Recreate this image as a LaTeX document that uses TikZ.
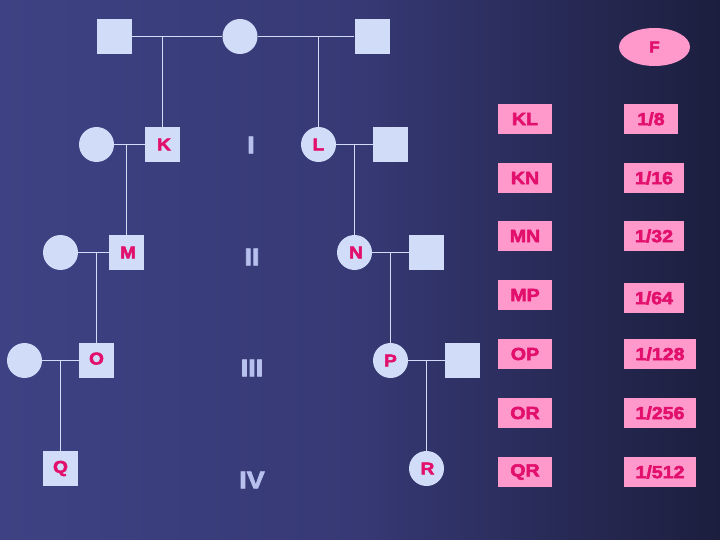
\documentclass[tikz,border=0pt]{standalone}
\usepackage{fontspec}
\setmainfont[BoldFeatures={FakeBold=3,FakeStretch=1.12}]{Liberation Sans}
\usetikzlibrary{shapes.geometric}
\definecolor{bgL}{RGB}{62,66,132}
\definecolor{bgM}{RGB}{54,57,116}
\definecolor{bgR}{RGB}{28,30,62}
\definecolor{shapefill}{RGB}{208,220,248}
\definecolor{pinkbox}{RGB}{255,153,204}
\definecolor{magtext}{RGB}{226,16,108}
\definecolor{romancol}{RGB}{184,192,238}
\tikzset{
  male/.style={rectangle, fill=shapefill, minimum size=35pt, inner sep=0pt,
    text=magtext, font=\fontsize{17}{17}\selectfont\bfseries},
  female/.style={circle, fill=shapefill, minimum size=35pt, inner sep=0pt,
    text=magtext, font=\fontsize{17}{17}\selectfont\bfseries},
  pedline/.style={draw=shapefill, line width=1pt},
  roman/.style={text=romancol, font=\fontsize{24}{24}\selectfont\bfseries},
  pairbox/.style={rectangle, fill=pinkbox, minimum width=54pt, minimum height=30pt,
    inner sep=0pt, text=magtext, font=\fontsize{17.5}{17.5}\selectfont\bfseries},
  fracbox/.style={rectangle, fill=pinkbox, minimum height=30pt, inner sep=0pt,
    text=magtext, font=\fontsize{17.5}{17.5}\selectfont\bfseries}
}
\newcommand{\lowered}[1]{\raisebox{-2.5pt}{#1}}
\begin{document}
\begin{tikzpicture}[x=1pt,y=-1pt]
\shade[left color=bgL, right color=bgR, middle color=bgM] (0,0) rectangle (720,540);
\useasboundingbox (0,0) rectangle (720,540);
% generation I parents
\node[male] (g1) at (114.5,36.5) {};
\node[female] (g2) at (240,36.5) {};
\node[male] (g3) at (372,36.5) {};
% row 2
\node[female] (w1) at (96.5,144.5) {};
\node[male] (K) at (162.5,144.5) {\hspace{3pt}\lowered{K}};
\node[female] (L) at (318.5,144.5) {\lowered{L}};
\node[male] (h1) at (390.5,144.5) {};
% row 3
\node[female] (w2) at (60.5,252.5) {};
\node[male] (M) at (126.5,252.5) {\hspace{3pt}\lowered{M}};
\node[female] (N) at (354.5,252.5) {\hspace{3pt}\lowered{N}};
\node[male] (h2) at (426.5,252.5) {};
% row 4
\node[female] (w3) at (24.5,360.5) {};
\node[male] (O) at (96.5,360.5) {\raisebox{4pt}{O}\hspace{8pt}};
\node[female] (P) at (390.5,360.5) {\lowered{P}};
\node[male] (h3) at (462.5,360.5) {};
% row 5
\node[male] (Q) at (60.5,468.5) {\raisebox{2pt}{Q}\hspace{2pt}};
\node[female] (R) at (426.5,468.5) {\hspace{2pt}\lowered{R}};
% connectors
\draw[pedline] (g1) -- (g2);
\draw[pedline] (g2) -- (g3);
\draw[pedline] (K.north) -- (K.north |- g1.east);
\draw[pedline] (L.north) -- (L.north |- g3.west);
\draw[pedline] (w1) -- (K);
\draw[pedline] (L) -- (h1);
\draw[pedline] (M.north) -- (M.north |- w1.east);
\draw[pedline] (N.north) -- (N.north |- h1.west);
\draw[pedline] (w2) -- (M);
\draw[pedline] (N) -- (h2);
\draw[pedline] (O.north) -- (O.north |- w2.east);
\draw[pedline] (P.north) -- (P.north |- h2.west);
\draw[pedline] (w3) -- (O);
\draw[pedline] (P) -- (h3);
\draw[pedline] (Q.north) -- (Q.north |- w3.east);
\draw[pedline] (R.north) -- (R.north |- h3.west);
% generation numerals
\node[roman] (r1) at (251,145) {I};
\node[roman] (r2) at (252,257) {II};
\node[roman] (r3) at (252,368) {III};
\node[roman] (r4) at (252,480) {IV};
% F ellipse
\node[ellipse, fill=pinkbox, minimum width=71pt, minimum height=38pt, inner sep=0pt,
  text=magtext, font=\fontsize{15.5}{15.5}\selectfont\bfseries] (F) at (654.5,47) {F};
% pair boxes
\node[pairbox] (p1) at (525,119) {KL};
\node[pairbox] (p2) at (525,178) {KN};
\node[pairbox] (p3) at (525,236) {MN};
\node[pairbox] (p4) at (525,295) {MP};
\node[pairbox] (p5) at (525,354) {OP};
\node[pairbox] (p6) at (525,413) {OR};
\node[pairbox] (p7) at (525,472) {QR};
% fraction boxes
\node[fracbox, minimum width=54pt] (f1) at (651,119) {1/8};
\node[fracbox, minimum width=60pt] (f2) at (654,178) {1/16};
\node[fracbox, minimum width=60pt] (f3) at (654,236) {1/32};
\node[fracbox, minimum width=60pt] (f4) at (654,298) {1/64};
\node[fracbox, minimum width=72pt] (f5) at (660,354) {1/128};
\node[fracbox, minimum width=72pt] (f6) at (660,413) {1/256};
\node[fracbox, minimum width=72pt] (f7) at (660,472) {1/512};
\end{tikzpicture}
\end{document}
